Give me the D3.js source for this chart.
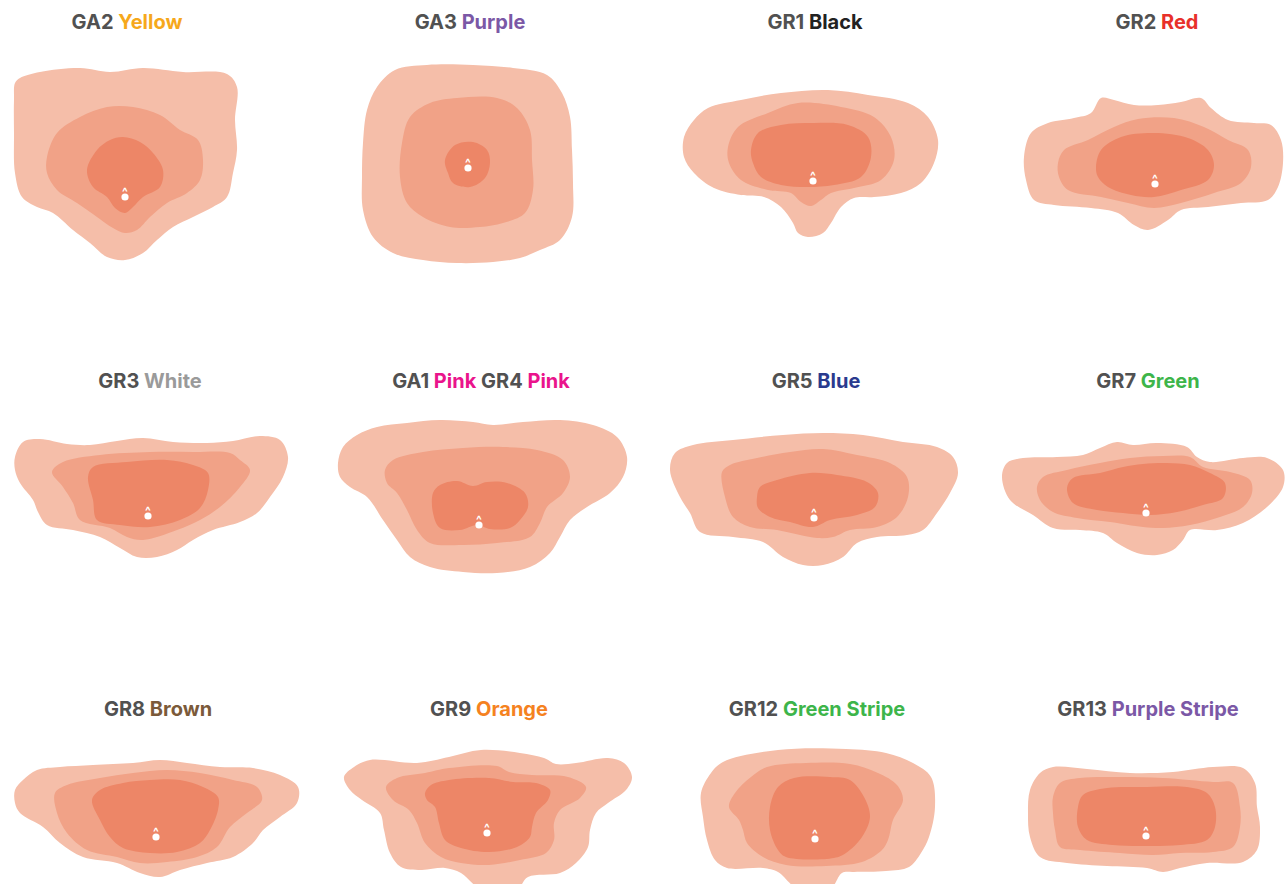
<!DOCTYPE html>
<html>
<head>
<meta charset="utf-8">
<script src="https://cdn.jsdelivr.net/npm/d3@7"></script>
<style>
  body { margin: 0; background: #fff; overflow: hidden; }
  svg { display: block; }
  .title { font-family: Inter, "Noto Sans", sans-serif; font-weight: 700; font-size: 20px; }
  .caret { font-family: Inter, sans-serif; font-size: 12px; font-weight: 700; fill: #fff; }
</style>
</head>
<body>
<div id="container"></div>
<script>
// panel labels: [code, colour name] pairs
const labels = [
  [["GA2", "Yellow"]], [["GA3", "Purple"]], [["GR1", "Black"]], [["GR2", "Red"]],
  [["GR3", "White"]], [["GA1", "Pink"], ["GR4", "Pink"]], [["GR5", "Blue"]], [["GR7", "Green"]],
  [["GR8", "Brown"]], [["GR9", "Orange"]], [["GR12", "Green Stripe"]], [["GR13", "Purple Stripe"]]
];
const nameColours = {
  "Yellow": "#f6a81c", "Purple": "#7b58a6", "Black": "#222222", "Red": "#e8302a",
  "White": "#9a9a9a", "Pink": "#ea148c", "Blue": "#2a3a8e", "Green": "#3db54a",
  "Brown": "#7b5a3a", "Orange": "#f5821f", "Green Stripe": "#3db54a", "Purple Stripe": "#7b58a6"
};

// mean point (dot) per panel, in panel units (x right of centre, y below title)
const dots = [[-3,175],[0,146],[2,159],[2,162],[20,135],[11,144],[3,137],[-7,132],[28,128],[19,124],[4,130],[-7,127]];

// density contours per panel: outer (lowest), middle, inner (highest)
const outer = [
  [[-113,61],[-108,56],[-88,50],[-48,46],[-18,50],[15,46],[55,50],[99,52],[109,65],[107,98],[109,128],[105,151],[99,175],[85,185],[65,195],[45,205],[29,218],[15,231],[-3,238],[-21,235],[-38,221],[-55,208],[-75,191],[-91,185],[-106,175],[-113,151],[-114,111],[-114,78]],
  [[-73,48],[-41,43],[5,43],[45,46],[79,53],[94,71],[102,95],[104,128],[105,161],[104,195],[92,218],[72,228],[52,236],[25,240],[-11,241],[-45,238],[-75,231],[-95,215],[-105,188],[-106,155],[-105,121],[-101,88],[-91,65]],
  [[-127,115],[-117,98],[-103,86],[-70,78],[-30,71],[17,68],[57,73],[97,81],[117,95],[127,118],[123,141],[110,161],[90,171],[63,175],[43,176],[30,185],[20,201],[12,211],[-3,215],[-13,211],[-18,201],[-30,185],[-47,175],[-70,173],[-97,166],[-117,151],[-127,135]],
  [[-129,135],[-122,111],[-105,101],[-79,96],[-62,91],[-52,76],[-39,78],[-19,83],[5,83],[28,80],[48,76],[58,86],[75,98],[101,101],[118,103],[128,118],[130,141],[125,165],[115,178],[88,181],[55,185],[28,188],[15,198],[-5,208],[-19,203],[-35,191],[-62,186],[-99,183],[-119,178],[-127,158]],
  [[-113,76],[-105,61],[-88,58],[-61,63],[-38,64],[-11,60],[15,57],[45,61],[79,62],[105,60],[132,55],[152,59],[160,76],[155,96],[142,116],[129,132],[112,141],[85,149],[65,159],[49,169],[29,176],[9,176],[-8,167],[-28,156],[-55,149],[-81,144],[-90,131],[-95,119],[-108,102],[-113,89]],
  [[-130,82],[-125,66],[-111,54],[-91,46],[-61,42],[-28,39],[5,41],[25,44],[55,41],[92,39],[125,44],[149,56],[159,76],[155,96],[142,112],[119,126],[102,139],[92,156],[82,172],[62,186],[29,192],[-5,191],[-38,186],[-58,176],[-71,159],[-85,139],[-101,116],[-118,106],[-128,96]],
  [[-141,89],[-136,72],[-118,64],[-78,59],[-28,54],[12,52],[52,54],[92,61],[126,66],[142,76],[147,92],[139,112],[126,132],[112,149],[96,154],[66,156],[46,162],[32,176],[12,184],[-8,184],[-28,176],[-48,161],[-78,156],[-111,151],[-121,132],[-131,116]],
  [[-151,96],[-146,82],[-130,77],[-96,76],[-70,74],[-53,67],[-36,61],[-20,64],[4,62],[34,66],[44,76],[57,81],[90,77],[114,77],[130,89],[130,106],[114,126],[90,142],[64,149],[37,149],[30,159],[20,169],[4,174],[-16,172],[-36,162],[-50,152],[-73,149],[-100,147],[-120,134],[-143,119]],
  [[-113,81],[-105,71],[-91,61],[-68,58],[-35,56],[5,54],[32,51],[59,54],[92,58],[125,59],[152,66],[170,78],[169,94],[152,108],[135,121],[125,134],[105,148],[79,154],[52,161],[32,168],[12,164],[-11,154],[-45,148],[-68,134],[-85,118],[-108,104],[-113,94]],
  [[-124,68],[-114,58],[-98,51],[-51,54],[-19,48],[13,41],[52,44],[76,49],[88,55],[108,54],[140,49],[156,54],[164,68],[158,81],[140,94],[128,104],[122,121],[120,138],[108,154],[92,164],[60,168],[49,180],[13,180],[-7,164],[-23,159],[-47,161],[-67,158],[-78,144],[-84,121],[-88,104],[-106,91],[-118,81]],
  [[-110,84],[-100,64],[-88,53],[-33,41],[35,40],[75,44],[102,54],[120,68],[124,98],[118,128],[110,144],[98,158],[75,162],[43,163],[31,164],[19,180],[-13,180],[-33,163],[-48,159],[-84,159],[-96,151],[-104,131],[-108,108]],
  [[-123,81],[-113,64],[-100,58],[-66,60],[-23,64],[20,63],[60,58],[90,59],[102,74],[104,98],[107,118],[104,141],[90,153],[54,154],[27,159],[10,163],[-6,159],[-46,157],[-86,154],[-113,148],[-123,128],[-125,104]]
];
const middle = [
  [[-81,135],[-71,111],[-48,95],[-21,85],[5,85],[32,93],[52,108],[70,118],[75,138],[72,158],[59,171],[39,181],[22,195],[9,208],[-3,211],[-15,206],[-31,195],[-51,181],[-71,168],[-81,151]],
  [[-58,95],[-38,81],[-11,76],[29,76],[49,86],[62,108],[64,138],[65,168],[57,191],[35,201],[12,205],[-18,205],[-45,195],[-61,181],[-68,155],[-66,121]],
  [[-83,125],[-73,105],[-43,91],[-13,81],[30,85],[63,95],[80,115],[83,138],[70,158],[43,166],[20,171],[10,178],[0,184],[-10,180],[-20,171],[-43,168],[-70,158],[-82,141]],
  [[-95,141],[-89,128],[-65,118],[-39,105],[-15,97],[21,96],[51,105],[75,118],[95,128],[98,145],[88,161],[61,171],[28,181],[1,186],[-25,181],[-52,175],[-85,168],[-94,155]],
  [[-76,91],[-65,81],[-28,74],[22,71],[65,71],[102,72],[112,79],[122,89],[112,106],[92,126],[72,139],[49,149],[15,159],[-1,156],[-18,147],[-48,139],[-55,122],[-65,106]],
  [[-83,89],[-75,79],[-45,71],[-5,67],[35,66],[69,69],[95,79],[102,96],[95,112],[79,126],[72,142],[62,156],[29,162],[-5,164],[-38,162],[-51,149],[-61,129],[-71,112],[-81,102]],
  [[-89,91],[-81,84],[-54,77],[-21,71],[12,68],[46,74],[79,82],[96,96],[97,116],[86,136],[66,146],[39,149],[22,156],[6,157],[-11,154],[-34,149],[-61,146],[-78,136],[-86,116]],
  [[-116,106],[-110,96],[-86,89],[-53,82],[-23,77],[10,75],[37,76],[50,86],[77,91],[97,99],[99,112],[90,126],[67,136],[37,144],[10,147],[-10,146],[-43,141],[-76,137],[-100,131],[-113,119]],
  [[-73,84],[-61,76],[-28,69],[5,64],[39,61],[72,64],[105,71],[129,78],[134,91],[119,104],[102,118],[89,138],[69,148],[39,153],[12,154],[-11,148],[-41,141],[-61,124],[-71,104]],
  [[-82,78],[-71,69],[-43,64],[-19,59],[29,57],[41,63],[64,66],[100,68],[118,78],[112,89],[92,101],[86,114],[86,131],[78,144],[52,151],[21,156],[-7,154],[-27,148],[-43,134],[-51,114],[-59,101],[-75,91]],
  [[-82,98],[-76,84],[-60,68],[-44,58],[-5,54],[39,55],[67,64],[86,76],[92,91],[82,111],[77,131],[71,141],[51,153],[15,157],[-25,156],[-48,148],[-64,134],[-68,121],[-72,111]],
  [[-100,88],[-93,74],[-73,69],[-33,68],[10,69],[60,73],[80,74],[87,98],[87,118],[80,138],[60,143],[27,144],[0,146],[-33,144],[-73,141],[-93,138],[-98,121],[-100,104]]
];
const inner = [
  [[-41,148],[-31,128],[-18,118],[-5,115],[12,120],[25,131],[35,148],[32,165],[15,175],[5,185],[-3,191],[-13,186],[-21,175],[-35,165]],
  [[-23,138],[-13,123],[5,120],[19,128],[22,141],[17,156],[2,165],[-15,161],[-20,151]],
  [[-60,128],[-53,111],[-30,103],[3,101],[37,103],[57,115],[60,135],[50,155],[23,163],[-3,165],[-30,163],[-50,155],[-58,141]],
  [[-57,145],[-52,128],[-32,115],[1,111],[35,116],[55,128],[61,143],[55,158],[28,168],[1,175],[-22,173],[-45,165],[-55,155]],
  [[-40,96],[-35,86],[-1,81],[39,79],[65,84],[80,92],[80,109],[72,127],[52,139],[22,146],[-8,144],[-31,139],[-35,119]],
  [[-35,112],[-28,104],[-11,100],[5,105],[19,101],[39,102],[57,112],[60,126],[52,139],[42,147],[22,148],[9,144],[-8,149],[-28,147],[-35,132]],
  [[-54,116],[-51,106],[-34,99],[-1,92],[26,94],[56,101],[67,112],[64,126],[46,134],[19,139],[2,146],[-21,141],[-41,136],[-53,127]],
  [[-86,107],[-80,97],[-53,92],[-30,86],[-10,83],[14,82],[37,84],[57,92],[72,102],[70,117],[50,124],[24,131],[-3,134],[-30,132],[-56,129],[-80,122]],
  [[-36,91],[-28,81],[-5,74],[22,71],[52,71],[75,78],[90,88],[90,101],[82,121],[72,134],[49,143],[22,144],[-5,139],[-18,128],[-28,111]],
  [[-43,84],[-37,76],[-19,71],[21,69],[45,73],[68,74],[82,81],[80,91],[68,104],[64,118],[62,128],[49,138],[21,143],[-7,139],[-23,131],[-29,114],[-33,98],[-41,91]],
  [[-41,98],[-33,78],[-17,69],[19,68],[39,71],[53,88],[59,108],[51,128],[35,144],[23,149],[-25,148],[-33,141],[-41,121]],
  [[-75,98],[-70,86],[-46,79],[-6,78],[34,78],[54,84],[62,98],[62,118],[54,131],[27,136],[-6,137],[-40,136],[-66,131],[-75,118]]
];

window.onload = function () {
  const W = 1287, H = 884;
  const svg = d3.select('#container').append('svg')
    .attr('width', W).attr('height', H);

  // grid layout: column centres and title rows
  const colX = [128, 468, 811, 1153];
  const rowY = [22, 381, 709];
  const fills = ['#f5bea9', '#f1a287', '#ed8667'];

  labels.forEach((lab, i) => {
    const cx = colX[i % 4], ty = rowY[Math.floor(i / 4)];
    const x = d3.scaleLinear().domain([-200, 200]).range([cx - 200, cx + 200]);
    const y = d3.scaleLinear().domain([0, 300]).range([ty, ty + 300]);
    const g = svg.append('g');

    const line = d3.line()
      .x(d => x(d[0]))
      .y(d => y(d[1]))
      .curve(d3.curveCatmullRomClosed.alpha(0.5));

    [outer[i], middle[i], inner[i]].forEach((c, k) => {
      g.append('path').attr('d', line(c)).attr('fill', fills[k]);
    });

    const dot = dots[i];
    g.append('circle')
      .attr('cx', x(dot[0])).attr('cy', y(dot[1]))
      .attr('r', 3.6).attr('fill', '#fff');
    g.append('text').attr('class', 'caret')
      .attr('x', x(dot[0])).attr('y', y(dot[1]) - 1)
      .attr('text-anchor', 'middle').text('^');

    // title, centred over the mean point
    const t = g.append('text').attr('class', 'title')
      .attr('x', x(dot[0]) + 2).attr('y', y(0))
      .attr('text-anchor', 'middle').attr('dominant-baseline', 'central');
    lab.forEach((p, j) => {
      t.append('tspan').attr('fill', '#515151').text((j > 0 ? ' ' : '') + p[0] + ' ');
      t.append('tspan').attr('fill', nameColours[p[1]]).text(p[1]);
    });
  });
};
</script>
</body>
</html>
